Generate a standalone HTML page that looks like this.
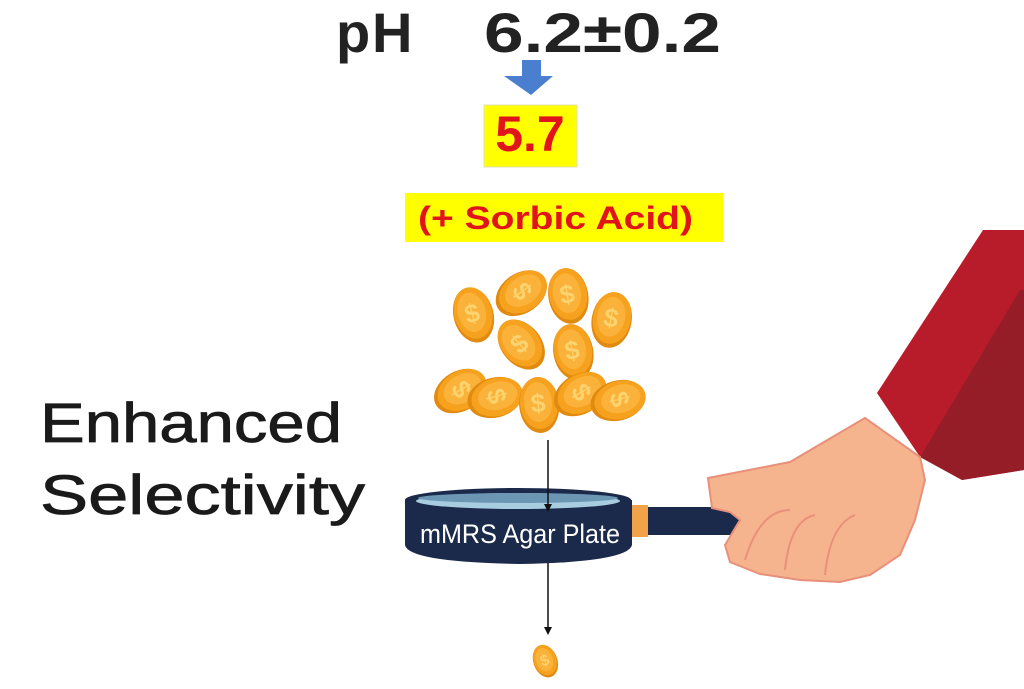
<!DOCTYPE html>
<html><head><meta charset="utf-8"><style>
html,body{margin:0;padding:0;background:#fff;width:1024px;height:689px;overflow:hidden}
svg{display:block}
</style></head><body>
<svg width="1024" height="689" viewBox="0 0 1024 689" xmlns="http://www.w3.org/2000/svg">
<defs>
<g id="coin">
<ellipse cx="0" cy="2" rx="20" ry="28" fill="#e08a10"/>
<ellipse cx="0" cy="0" rx="19" ry="26" fill="#f7a21e"/>
<ellipse cx="-1" cy="-1" rx="14" ry="20" fill="#fbb23a"/>
<text x="-1" y="9" font-family="Liberation Sans, sans-serif" font-weight="bold" font-size="26" fill="#fcd36e" text-anchor="middle">$</text>
</g>
</defs>
<text x="336" y="52" font-family="Liberation Sans, sans-serif" font-weight="bold" font-size="56" fill="#222">p</text>
<text x="372" y="52" font-family="Liberation Sans, sans-serif" font-weight="bold" font-size="56" fill="#222">H</text>
<text x="484" y="52" font-family="Liberation Sans, sans-serif" font-weight="bold" font-size="56" fill="#222" textLength="237" lengthAdjust="spacingAndGlyphs">6.2±0.2</text>
<polygon points="522,60 541,60 541,76 553,76 531,95 504,76 522,76" fill="#4a7fcf"/>
<rect x="484" y="105" width="93" height="62" fill="#ffff00" stroke="#e0e0b0" stroke-width="1"/>
<text x="530" y="151" font-family="Liberation Sans, sans-serif" font-weight="bold" font-size="50" fill="#e0141a" text-anchor="middle">5.7</text>
<rect x="405" y="193" width="318" height="49" fill="#ffff00"/>
<text x="418" y="229" font-family="Liberation Sans, sans-serif" font-weight="bold" font-size="32" fill="#e0141a" textLength="275" lengthAdjust="spacingAndGlyphs">(+ Sorbic Acid)</text>
<g>
<use href="#coin" transform="translate(473,313) rotate(-15)"/>
<use href="#coin" transform="translate(523,292) rotate(55)"/>
<use href="#coin" transform="translate(568,294) rotate(-10)"/>
<use href="#coin" transform="translate(612,318) rotate(10)"/>
<use href="#coin" transform="translate(520,343) rotate(-40)"/>
<use href="#coin" transform="translate(573,350) rotate(-10)"/>
<use href="#coin" transform="translate(462,390) rotate(60)"/>
<use href="#coin" transform="translate(497,397) rotate(75)"/>
<use href="#coin" transform="translate(539,403) rotate(-5)"/>
<use href="#coin" transform="translate(582,393) rotate(60)"/>
<use href="#coin" transform="translate(620,400) rotate(75)"/>
</g>
<text x="40" y="442" font-family="Liberation Sans, sans-serif" font-size="56" fill="#1a1a1a" textLength="302" lengthAdjust="spacingAndGlyphs" stroke="#1a1a1a" stroke-width="0.8">Enhanced</text>
<text x="40" y="514" font-family="Liberation Sans, sans-serif" font-size="56" fill="#1a1a1a" textLength="325" lengthAdjust="spacingAndGlyphs" stroke="#1a1a1a" stroke-width="0.8">Selectivity</text>
<!-- sleeve -->
<polygon points="983,230 1024,230 1024,470 962,480 920,457 877,393" fill="#b81c2a"/>
<polygon points="1020,290 1024,290 1024,470 962,480 920,457" fill="#951d28"/>
<!-- handle -->
<rect x="630" y="507" width="170" height="28" rx="4" fill="#1b2a4a"/>
<rect x="632" y="505" width="16" height="32" fill="#f2a34a"/>
<!-- hand -->
<path d="M708,478 L790,462 L865,418 L920,457 L925,480 L915,520 L900,555 L870,575 L840,582 L800,580 L760,574 L730,562 L725,545 L740,520 L730,512 L712,508 Z" fill="#f5b48e" stroke="#e8907a" stroke-width="2"/>
<path d="M745,560 Q760,510 790,510 M785,570 Q790,520 815,515 M825,575 Q830,525 855,515" fill="none" stroke="#e8907a" stroke-width="2"/>
<!-- plate -->
<path d="M405,500 L405,545 Q408,562 520,564 Q628,562 632,545 L632,500 Z" fill="#1b2a4a"/>
<ellipse cx="518" cy="500" rx="113" ry="12" fill="#1b2a4a"/>
<ellipse cx="518" cy="501" rx="102" ry="8" fill="#a9cde0"/>
<ellipse cx="518" cy="498" rx="100" ry="5" fill="#6b97b4"/>
<line x1="548" y1="440" x2="548" y2="505" stroke="#111" stroke-width="1.5"/>
<polygon points="544,504 552,504 548,512" fill="#111"/>
<text x="420" y="543" font-family="Liberation Sans, sans-serif" font-size="27" fill="#fff" textLength="200" lengthAdjust="spacingAndGlyphs">mMRS Agar Plate</text>
<line x1="548" y1="563" x2="548" y2="628" stroke="#111" stroke-width="1.5"/>
<polygon points="544,627 552,627 548,635" fill="#111"/>
<use href="#coin" transform="translate(545,660) rotate(-20) scale(0.6)"/>
</svg>
</body></html>
